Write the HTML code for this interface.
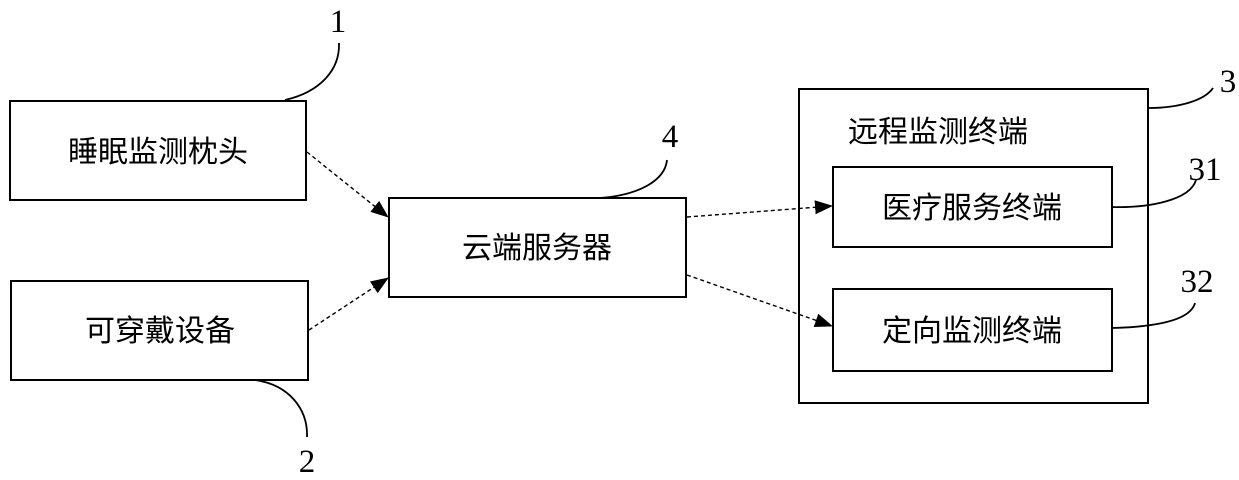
<!DOCTYPE html>
<html><head><meta charset="utf-8"><style>
html,body{margin:0;padding:0;background:#fff;}
svg{display:block;}
text{font-family:"Liberation Serif","Noto Serif CJK SC","Noto Sans CJK SC",serif;fill:#000;}
.cn{font-family:"Liberation Sans","Noto Sans CJK SC",sans-serif;font-size:30px;}
.num{font-size:33px;}
</style></head><body>
<svg width="1239" height="480" viewBox="0 0 1239 480" xmlns="http://www.w3.org/2000/svg">
<defs>
<marker id="ar" markerWidth="18" markerHeight="14" refX="17" refY="7" orient="auto" markerUnits="userSpaceOnUse">
<path d="M0,0 L18,7 L0,14 Z" fill="#000"/>
</marker>
</defs>
<g fill="none" stroke="#000" stroke-width="2">
<rect x="10" y="101" width="296" height="99"/>
<rect x="11" y="281" width="297" height="99"/>
<rect x="389" y="198" width="297" height="99"/>
<rect x="799" y="89" width="349" height="314"/>
<rect x="833" y="167" width="279" height="80"/>
<rect x="833" y="289" width="279" height="82"/>
</g>
<g fill="none" stroke="#000" stroke-width="1.4" stroke-dasharray="4,3">
<line x1="307" y1="152" x2="388" y2="217" marker-end="url(#ar)"/>
<line x1="309" y1="330" x2="388" y2="278" marker-end="url(#ar)"/>
<line x1="687" y1="217" x2="832" y2="206" marker-end="url(#ar)"/>
<line x1="687" y1="275" x2="832" y2="326" marker-end="url(#ar)"/>
</g>
<g fill="none" stroke="#000" stroke-width="1.8">
<path d="M285,100 C320,92 340,70 339,43"/>
<path d="M255,380 C290,385 308,410 307,437"/>
<path d="M600,198 C640,195 665,180 667,160"/>
<path d="M1148,108 C1180,108 1205,100 1213,88"/>
<path d="M1112,207 C1150,208 1190,200 1196,180"/>
<path d="M1112,328 C1150,327 1190,322 1195,303"/>
</g>
<text class="cn" x="158" y="162" text-anchor="middle">睡眠监测枕头</text>
<text class="cn" x="160" y="341" text-anchor="middle">可穿戴设备</text>
<text class="cn" x="537" y="258" text-anchor="middle">云端服务器</text>
<text class="cn" x="848" y="142">远程监测终端</text>
<text class="cn" x="972" y="218" text-anchor="middle">医疗服务终端</text>
<text class="cn" x="972" y="341" text-anchor="middle">定向监测终端</text>
<text class="num" x="338" y="32" text-anchor="middle">1</text>
<text class="num" x="307" y="472" text-anchor="middle">2</text>
<text class="num" x="670" y="147" text-anchor="middle">4</text>
<text class="num" x="1228" y="92" text-anchor="middle">3</text>
<text class="num" x="1205" y="180" text-anchor="middle">31</text>
<text class="num" x="1197" y="292" text-anchor="middle">32</text>
</svg>
</body></html>
